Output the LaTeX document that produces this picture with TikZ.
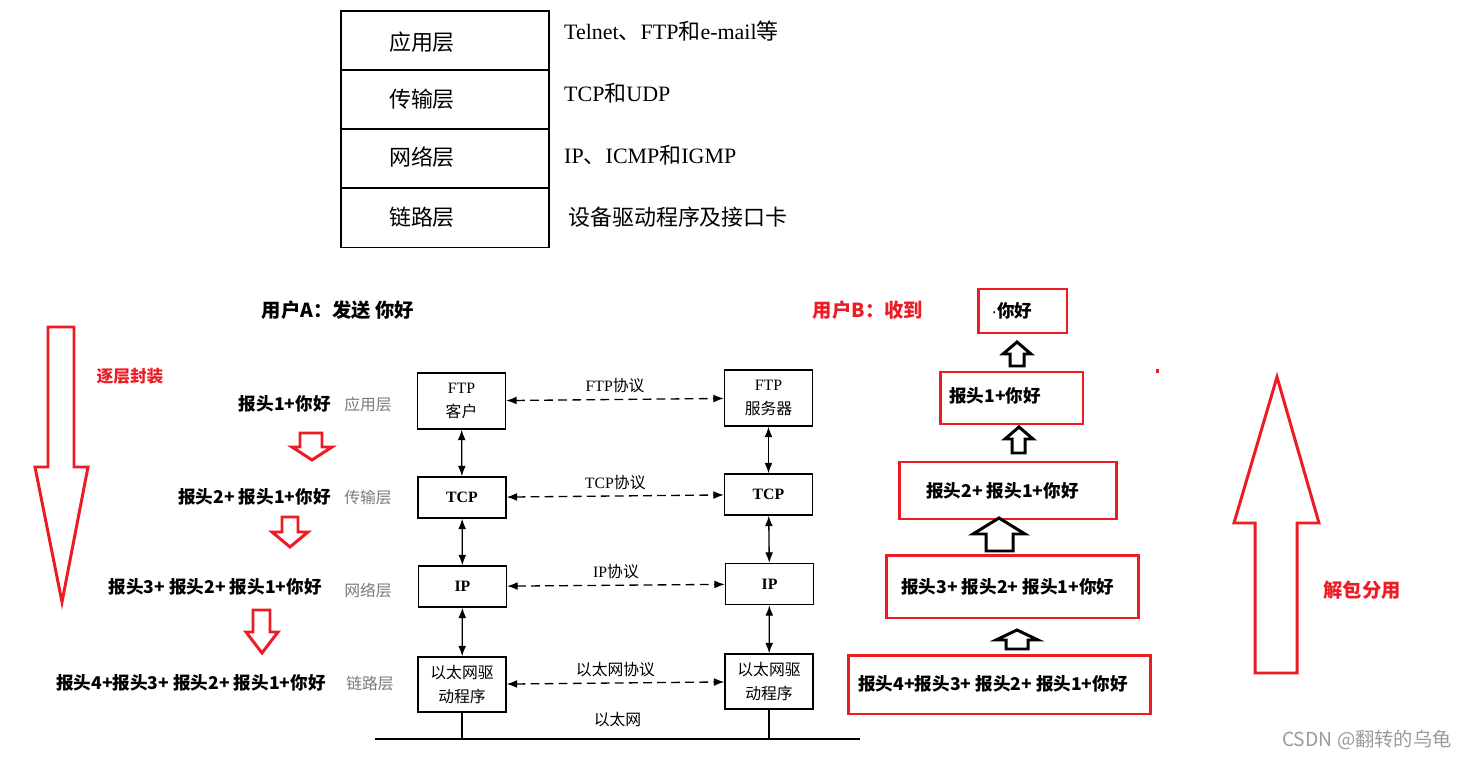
\documentclass[tikz,border=0pt]{standalone}
\usepackage{fontspec}
\setmainfont{Liberation Serif}
\newfontfamily\cjk{Noto Sans CJK SC}
\newfontfamily\latinsans{Liberation Sans}
\newcommand{\zh}[1]{{\cjk #1}}
\usepackage{xcolor}
\definecolor{redmark}{HTML}{ED1C24}
\definecolor{layergray}{HTML}{7A7A7A}
\definecolor{wmgray}{HTML}{9A9A9A}
\usepackage{tikz}
\usetikzlibrary{arrows.meta, positioning, calc}

\tikzset{
  layerrow/.style={draw, line width=0.9pt, minimum width=4.16cm, minimum height=1.18cm},
  tabtext/.style={font=\fontsize{12.5}{14}\selectfont},
  protobox/.style={draw, line width=0.75pt, minimum width=1.76cm, align=center,
                   font=\fontsize{9}{13.5}\selectfont},
  hdrtext/.style={font=\cjk\bfseries\fontsize{10}{12}\selectfont, inner sep=0pt},
  layername/.style={font=\cjk\fontsize{9}{11}\selectfont, text=layergray},
  recvbox/.style={draw=redmark, line width=1.7pt},
  hollowred/.style={draw=redmark, line width=1.7pt},
  hollowblack/.style={draw=black, line width=1.7pt},
}

\begin{document}
\begin{tikzpicture}[x=0.02cm, y=-0.02cm, >={Latex[length=6pt,width=4.5pt]}]
  \useasboundingbox (0,0) rectangle (1468,760);

  % layer table
  \node[layerrow] (rowapp) at (445,40.5) {};
  \node[layerrow] (rowtrans) at (445,99.5) {};
  \node[layerrow] (rownet) at (445,158.5) {};
  \node[layerrow] (rowlink) at (445,218) {};
  \node[tabtext, font=\cjk\fontsize{12.5}{14}\selectfont] (tapp) at (422,42) {应用层};
  \node[tabtext, font=\cjk\fontsize{12.5}{14}\selectfont] (ttrans) at (422,99) {传输层};
  \node[tabtext, font=\cjk\fontsize{12.5}{14}\selectfont] (tnet) at (422,157) {网络层};
  \node[tabtext, font=\cjk\fontsize{12.5}{14}\selectfont] (tlink) at (422,217) {链路层};
  \node[tabtext, anchor=west] (papp) at (558,31) {Telnet\zh{、}FTP\zh{和}e-mail\zh{等}};
  \node[tabtext, anchor=west] (ptrans) at (558,93) {TCP\zh{和}UDP};
  \node[tabtext, anchor=west] (pnet) at (558,155) {IP\zh{、}ICMP\zh{和}IGMP};
  \node[tabtext, anchor=west] (plink) at (562,217) {\zh{设备驱动程序及接口卡}};

  % sender side
  \node[font=\cjk\bfseries\fontsize{11}{13}\selectfont] (userA) at (338,310) {用户A：发送 你好};
  \draw[hollowred] (48,327) -- (74,327) -- (74,467) -- (88,467) -- (62,602)
    -- (35,467) -- (48,467) -- cycle;
  \node[font=\cjk\bfseries\fontsize{9.5}{11}\selectfont, text=redmark] (encap) at (130,376) {逐层封装};

  \node[hdrtext, anchor=east] (send1) at (331,404) {报头1+你好};
  \node[hdrtext, anchor=east] (send2) at (331,497) {报头2+ 报头1+你好};
  \node[hdrtext, anchor=east] (send3) at (322,587) {报头3+ 报头2+ 报头1+你好};
  \node[hdrtext, anchor=east] (send4) at (326,683) {报头4+报头3+ 报头2+ 报头1+你好};
  \node[layername] (lapp) at (368,404) {应用层};
  \node[layername] (ltrans) at (368,498) {传输层};
  \node[layername] (lnet) at (368,590) {网络层};
  \node[layername] (llink) at (370,684) {链路层};

  \draw[hollowred] (300,433) -- (322,433) -- (322,447) -- (332,447) -- (312,460)
    -- (292,447) -- (300,447) -- cycle;
  \draw[hollowred] (282,517) -- (298,517) -- (298,532) -- (308,532) -- (290,547)
    -- (272,532) -- (282,532) -- cycle;
  \draw[hollowred] (253,610) -- (270,610) -- (270,632) -- (278,632) -- (262,653)
    -- (246,632) -- (253,632) -- cycle;

  % protocol stacks
  \node[protobox, minimum height=1.12cm] (ftpA) at (461.5,401) {FTP\\\zh{客户}};
  \node[protobox, minimum height=0.82cm, font=\bfseries\fontsize{9}{11}\selectfont] (tcpA) at (462,497.5) {TCP};
  \node[protobox, minimum height=0.82cm, font=\bfseries\fontsize{9}{11}\selectfont] (ipA) at (462.5,586.5) {IP};
  \node[protobox, minimum height=1.1cm, font=\cjk\fontsize{9}{13.5}\selectfont] (ethA) at (462,684.5) {以太网驱\\动程序};

  \node[protobox, minimum height=1.12cm] (ftpB) at (768.5,398) {FTP\\\zh{服务器}};
  \node[protobox, minimum height=0.82cm, font=\bfseries\fontsize{9}{11}\selectfont] (tcpB) at (768.5,494.5) {TCP};
  \node[protobox, minimum height=0.82cm, font=\bfseries\fontsize{9}{11}\selectfont] (ipB) at (769.5,584) {IP};
  \node[protobox, minimum height=1.1cm, font=\cjk\fontsize{9}{13.5}\selectfont] (ethB) at (769,681.5) {以太网驱\\动程序};

  \draw[<->, line width=0.75pt] (ftpA) -- (tcpA);
  \draw[<->, line width=0.75pt] (tcpA) -- (ipA);
  \draw[<->, line width=0.75pt] (ipA) -- (ethA);
  \draw[<->, line width=0.75pt] (ftpB) -- (tcpB);
  \draw[<->, line width=0.75pt] (tcpB) -- (ipB);
  \draw[<->, line width=0.75pt] (ipB) -- (ethB);

  \draw[<->, line width=0.75pt, dash pattern=on 5pt off 3pt] (ftpA) --
    node[above, font=\fontsize{9}{11}\selectfont] {FTP\zh{协议}} (ftpB);
  \draw[<->, line width=0.75pt, dash pattern=on 5pt off 3pt] (tcpA) --
    node[above, font=\fontsize{9}{11}\selectfont] {TCP\zh{协议}} (tcpB);
  \draw[<->, line width=0.75pt, dash pattern=on 5pt off 3pt] (ipA) --
    node[above, font=\fontsize{9}{11}\selectfont] {IP\zh{协议}} (ipB);
  \draw[<->, line width=0.75pt, dash pattern=on 5pt off 3pt] (ethA) --
    node[above, font=\cjk\fontsize{9}{11}\selectfont] {以太网协议} (ethB);

  \coordinate (busL) at (375,739);
  \coordinate (busR) at (860,739);
  \draw[line width=1.7pt] (busL) -- node[above=3pt, font=\cjk\fontsize{9}{11}\selectfont] {以太网} (busR);
  \draw[line width=0.75pt] (ethA.south) -- (ethA.south |- busL);
  \draw[line width=0.75pt] (ethB.south) -- (ethB.south |- busL);

  % receiver side
  \node[font=\cjk\bfseries\fontsize{11}{13}\selectfont, text=redmark] (userB) at (868,310) {用户B：收到};

  \node[recvbox, minimum width=1.78cm, minimum height=0.88cm] (recv0) at (1022.5,311) {};
  \node[recvbox, minimum width=2.86cm, minimum height=1.04cm] (recv1) at (1011.5,398) {};
  \node[recvbox, minimum width=4.36cm, minimum height=1.14cm] (recv2) at (1008,490.5) {};
  \node[recvbox, minimum width=5.06cm, minimum height=1.26cm] (recv3) at (1012.5,586.5) {};
  \node[recvbox, minimum width=6.06cm, minimum height=1.18cm] (recv4) at (999.5,684.5) {};
  \node[hdrtext, anchor=west] (recv0t) at (991,311) {{\latinsans\mdseries ·}你好};
  \node[hdrtext, anchor=west] (recv1t) at (949,396) {报头1+你好};
  \node[hdrtext, anchor=west] (recv2t) at (926,491) {报头2+ 报头1+你好};
  \node[hdrtext, anchor=west] (recv3t) at (901,587) {报头3+ 报头2+ 报头1+你好};
  \node[hdrtext, anchor=west] (recv4t) at (858,684) {报头4+报头3+ 报头2+ 报头1+你好};

  \draw[hollowblack] (1010,366) -- (1024,366) -- (1024,354) -- (1031,354) -- (1017,342)
    -- (1003,354) -- (1010,354) -- cycle;
  \draw[hollowblack] (1012,453) -- (1025,453) -- (1025,439) -- (1033,439) -- (1019,427)
    -- (1005,439) -- (1012,439) -- cycle;
  \draw[hollowblack] (986,551) -- (1013,551) -- (1013,534) -- (1025,534) -- (999,518)
    -- (973,534) -- (986,534) -- cycle;
  \draw[hollowblack] (1006,649) -- (1028,649) -- (1028,640) -- (1038,640) -- (1017,630)
    -- (996,640) -- (1006,640) -- cycle;

  \fill[redmark] (1155.5,369.5) rectangle (1158.5,372.5);
  \draw[hollowred] (1255,673) -- (1297,673) -- (1297,523) -- (1319,523) -- (1277,377)
    -- (1234,523) -- (1255,523) -- cycle;
  \node[font=\cjk\bfseries\fontsize{11}{13}\selectfont, text=redmark] (decap) at (1362,590) {解包分用};

  \node[font=\fontsize{11}{13}\selectfont, text=wmgray] (mark) at (1367,740) {\zh{CSDN @翻转的乌龟}};
\end{tikzpicture}
\end{document}
